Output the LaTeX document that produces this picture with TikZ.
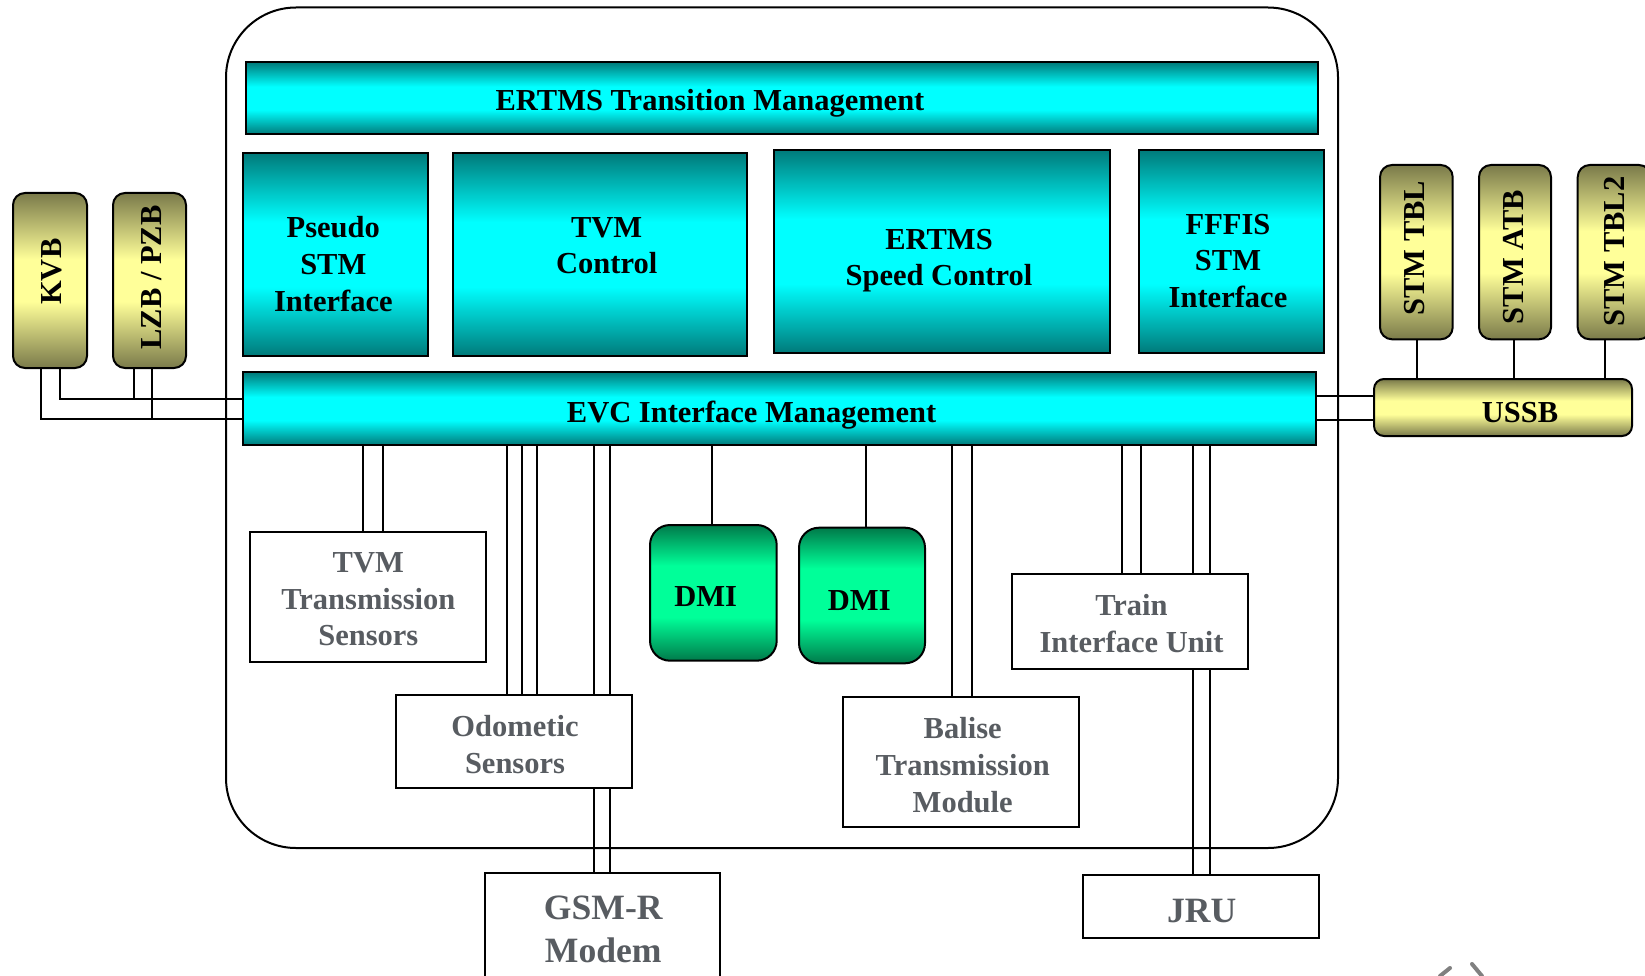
\documentclass[tikz,border=0pt]{standalone}
\usepackage{fontspec}
\setmainfont{Liberation Serif}
\definecolor{tealc}{RGB}{0,122,122}
\definecolor{cyanc}{RGB}{0,255,255}
\definecolor{olivec}{RGB}{122,122,74}
\definecolor{palec}{RGB}{255,255,153}
\definecolor{greend}{RGB}{0,122,74}
\definecolor{greenb}{RGB}{0,255,153}
\definecolor{graytxt}{RGB}{88,92,97}
\pgfdeclareverticalshading{cyanband}{100bp}{color(0bp)=(tealc); color(25bp)=(tealc); color(42bp)=(cyanc); color(58bp)=(cyanc); color(75bp)=(tealc); color(100bp)=(tealc)}
\pgfdeclareverticalshading{oliveband}{100bp}{color(0bp)=(olivec); color(25bp)=(olivec); color(44bp)=(palec); color(56bp)=(palec); color(75bp)=(olivec); color(100bp)=(olivec)}
\pgfdeclareverticalshading{greenband}{100bp}{color(0bp)=(greend); color(25bp)=(greend); color(41bp)=(greenb); color(60bp)=(greenb); color(75bp)=(greend); color(100bp)=(greend)}
\tikzset{
  frame/.style={draw, line width=2pt, rounded corners=70pt, inner sep=0pt, outer sep=0pt},
  cbox/.style={draw, line width=2pt, shading=cyanband, inner sep=0pt, outer sep=0pt},
  obox/.style={draw, line width=2pt, shading=oliveband, rounded corners=12pt, inner sep=0pt, outer sep=0pt},
  gbox/.style={draw, line width=2pt, shading=greenband, rounded corners=20pt, inner sep=0pt, outer sep=0pt},
  wbox/.style={draw, line width=2pt, fill=white, inner sep=0pt, outer sep=0pt},
  btxt/.style={font=\fontsize{30.5}{36.6}\selectfont\bfseries, align=center, inner sep=0pt},
  gtxt/.style={btxt, text=graytxt},
  bigtxt/.style={font=\fontsize{35.6}{43}\selectfont\bfseries, text=graytxt, align=center, inner sep=0pt},
  conn/.style={line width=1.8pt}
}
\begin{document}
\begin{tikzpicture}[x=1pt,y=-1pt]
\useasboundingbox (0,0) rectangle (1645,976);
\clip (0,0) rectangle (1645,976);
% outer frame
\node[frame, minimum width=1112pt, minimum height=840.5pt] (frame) at (782,427.75) {};
\coordinate (evcS) at (779.55,445);
\coordinate (ja) at (134,399);
\coordinate (jb) at (151.7,419.3);
% top part boxes
\node[cbox, minimum width=1071.5pt, minimum height=72.3pt] (tm) at (781.75,98.15) {};
\node[cbox, minimum width=184.9pt, minimum height=202.4pt] (pstm) at (335.85,254.5) {};
\node[cbox, minimum width=293.7pt, minimum height=202.4pt] (tvmc) at (600.1,254.5) {};
\node[cbox, minimum width=336.5pt, minimum height=202.7pt] (esc) at (941.75,251.35) {};
\node[cbox, minimum width=184.5pt, minimum height=202.7pt] (fffis) at (1231.25,251.35) {};
% left STM boxes
\node[obox, minimum width=74pt, minimum height=175pt] (kvb) at (50,280.5) {};
\node[obox, minimum width=73pt, minimum height=175pt] (lzb) at (149.5,280.5) {};
% right STM boxes
\node[obox, minimum width=72.7pt, minimum height=174.3pt] (stmtbl) at (1416.35,252.15) {};
\node[obox, minimum width=72pt, minimum height=174.3pt] (stmatb) at (1515,252.15) {};
\node[obox, minimum width=73.3pt, minimum height=174.3pt] (stmtbl2) at (1614.35,252.15) {};
% connectors
\draw[conn] (kvb.south -| 60,0) |- (ja);
\draw[conn] (ja) -- (ja -| 243.4,0);
\draw[conn] (kvb.south -| 40.7,0) |- (jb);
\draw[conn] (jb) -- (jb -| 243.4,0);
\draw[conn] (lzb.south -| ja) -- (ja);
\draw[conn] (lzb.south -| jb) -- (jb);
\draw[conn] (1315.7,396) -- (1374,396);
\draw[conn] (1315.7,420) -- (1374,420);
\draw[conn] (stmtbl.south -| 1417,0) -- (1417,379);
\draw[conn] (stmatb.south -| 1514,0) -- (1514,379);
\draw[conn] (stmtbl2.south -| 1605,0) -- (1605,379);
\foreach \xx/\yy in {363.3/531.7, 383.3/531.7, 506.7/695, 521.7/695, 536.7/695, 594/872.7, 610/872.7, 712.3/525, 866/527.7, 952.3/696.7, 972.3/696.7, 1122.3/573.8, 1140.7/573.8, 1193.3/875, 1210/875}
  \draw[conn] (evcS -| \xx,0) -- (\xx,\yy);
% EVC and USSB
\node[cbox, minimum width=1072.3pt, minimum height=72.7pt] (evc) at (779.55,408.65) {};
\node[obox, rounded corners=10pt, minimum width=258pt, minimum height=57pt] (ussb) at (1503,407.5) {};
% lower boxes
\node[wbox, minimum width=236pt, minimum height=130pt] (tvmts) at (368,596.7) {};
\node[wbox, minimum width=235.7pt, minimum height=93.3pt] (odo) at (513.85,741.65) {};
\node[wbox, minimum width=235pt, minimum height=127.3pt] (gsm) at (602.5,936.35) {};
\node[gbox, minimum width=126.7pt, minimum height=135.7pt] (dmia) at (713.35,592.85) {};
\node[gbox, minimum width=126pt, minimum height=135.6pt] (dmib) at (862,595.5) {};
\node[wbox, minimum width=236pt, minimum height=130pt] (balise) at (961.3,761.7) {};
\node[wbox, minimum width=236pt, minimum height=94.7pt] (tiu) at (1130.3,621.15) {};
\node[wbox, minimum width=236pt, minimum height=63.4pt] (jru) at (1201.3,906.7) {};
% texts
\node[btxt] (tmt) at (710,103) {ERTMS Transition Management};
\node[btxt] (pstmt) at (333.3,264) {Pseudo\\STM\\Interface};
\node[btxt] (tvmct) at (606.7,245.5) {TVM\\Control};
\node[btxt] (esct) at (939,260.5) {ERTMS\\Speed Control};
\node[btxt] (fffist) at (1228,261) {FFFIS\\STM\\Interface};
\node[btxt] (evct) at (751.6,415) {EVC Interface Management};
\node[btxt, rotate=90] (kvbt) at (51.7,271.7) {KVB};
\node[btxt, rotate=90] (lzbt) at (151.7,277.5) {LZB / PZB};
\node[btxt, rotate=90] (stmtblt) at (1415,248.3) {STM TBL};
\node[btxt, rotate=90] (stmatbt) at (1513.3,257) {STM ATB};
\node[btxt, rotate=90] (stmtbltt) at (1615,251.7) {STM TBL2};
\node[btxt] (ussbt) at (1520,413) {USSB};
\node[gtxt] (tvmtst) at (368.3,599.5) {TVM\\Transmission\\Sensors};
\node[gtxt] (odot) at (515,744.5) {Odometic\\Sensors};
\node[bigtxt] (gsmt) at (603.3,929.5) {GSM-R\\Modem};
\node[btxt] (dmiat) at (705.7,596.5) {DMI};
\node[btxt] (dmibt) at (859.3,600.5) {DMI};
\node[gtxt] (baliset) at (962.7,765) {Balise\\Transmission\\Module};
\node[gtxt] (tiut) at (1131.5,623.5) {Train\\Interface Unit};
\node[bigtxt] (jrut) at (1201.7,911) {JRU};
% clipped fragment at bottom right
\draw[line width=4pt, gray, line cap=round] (1440,976) -- (1450,968);
\draw[line width=4pt, gray, line cap=round] (1472,964) -- (1482,976);
\end{tikzpicture}
\end{document}
